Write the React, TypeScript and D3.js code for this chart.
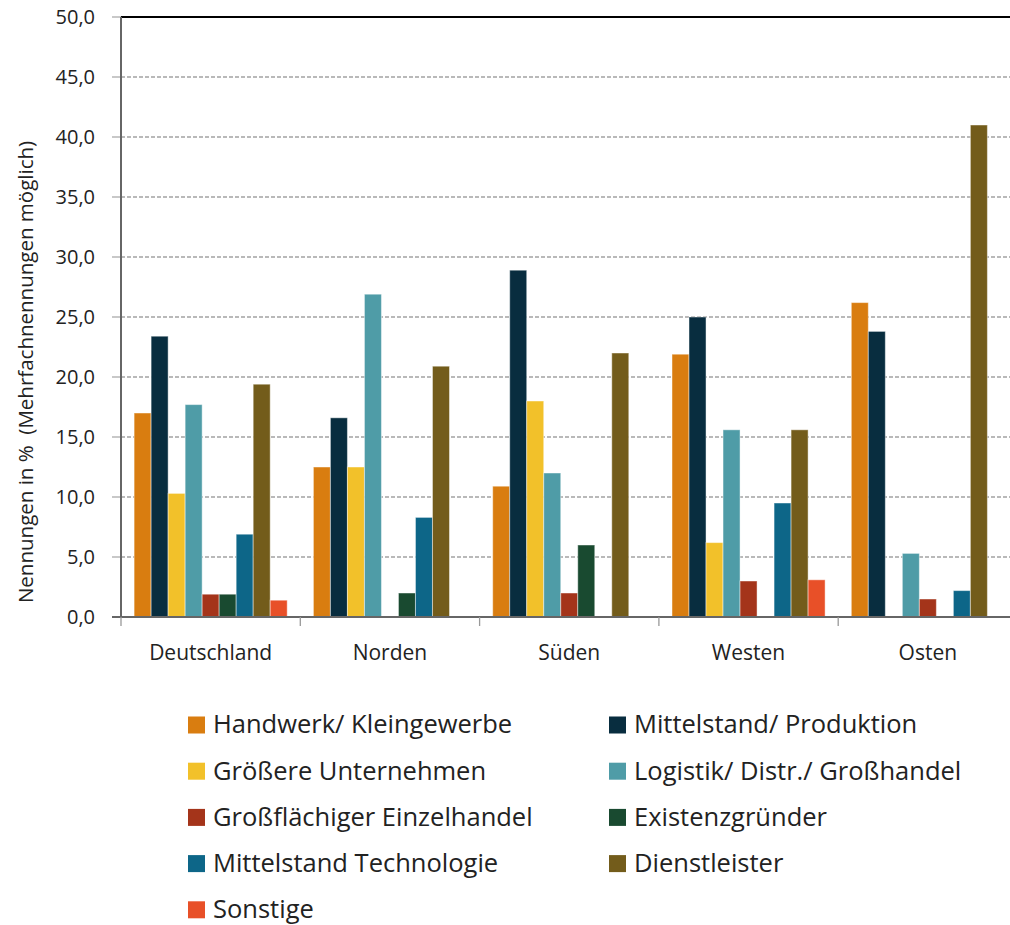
import * as d3 from 'd3';

const regions = ['Deutschland', 'Norden', 'Süden', 'Westen', 'Osten'];

const seriesNames = [
  'Handwerk/ Kleingewerbe',
  'Mittelstand/ Produktion',
  'Größere Unternehmen',
  'Logistik/ Distr./ Großhandel',
  'Großflächiger Einzelhandel',
  'Existenzgründer',
  'Mittelstand Technologie',
  'Dienstleister',
  'Sonstige'
];

const seriesColors = [
  '#d97d10',
  '#082d3f',
  '#f2c12a',
  '#4f9ca7',
  '#a4341a',
  '#194a30',
  '#0d6688',
  '#735c1b',
  '#e85028'
];

// one value per region, in region order
const handwerk = [17.0, 12.5, 10.9, 21.9, 26.2];
const produktion = [23.4, 16.6, 28.9, 25.0, 23.8];
const groessere = [10.3, 12.5, 18.0, 6.2, 0];
const logistik = [17.7, 26.9, 12.0, 15.6, 5.3];
const einzelhandel = [1.9, 0, 2.0, 3.0, 1.5];
const gruender = [1.9, 2.0, 6.0, 0, 0];
const technologie = [6.9, 8.3, 0, 9.5, 2.2];
const dienstleister = [19.4, 20.9, 22.0, 15.6, 41.0];
const sonstige = [1.4, 0, 0, 3.1, 0];

const seriesValues = [
  handwerk,
  produktion,
  groessere,
  logistik,
  einzelhandel,
  gruender,
  technologie,
  dienstleister,
  sonstige
];

const yTicks = [0, 5, 10, 15, 20, 25, 30, 35, 40, 45, 50];

const FONT = '"Open Sans", "Noto Sans", sans-serif';
const TEXT = '#222';

export default function App(): JSX.Element {
  const width = 1010;
  const height = 925;
  const left = 121;
  const top = 17;
  const bottom = 617;
  const groupW = 179.3;

  const x = d3
    .scaleBand<string>()
    .domain(regions)
    .range([left, left + groupW * regions.length])
    .padding(0);
  const xs = d3
    .scaleBand<string>()
    .domain(seriesNames)
    .range([0, x.bandwidth()])
    .paddingInner(0)
    .paddingOuter(0.77);
  const y = d3.scaleLinear().domain([0, 50]).range([bottom, top]);
  const fmt = (v: number) => d3.format('.1f')(v).replace('.', ',');

  const bars = regions.flatMap((r, ri) =>
    seriesNames.map((s, si) => {
      const v = seriesValues[si][ri];
      if (!v) return null;
      return (
        <rect
          key={`${r}-${s}`}
          x={(x(r) as number) + (xs(s) as number)}
          y={y(v)}
          width={xs.bandwidth()}
          height={y(0) - y(v)}
          fill={seriesColors[si]}
          stroke="rgba(255,255,255,0.45)"
          strokeWidth={1}
        />
      );
    })
  );

  return (
    <svg
      xmlns="http://www.w3.org/2000/svg"
      width={width}
      height={height}
      style={{ display: 'block', position: 'absolute', left: 0, top: 0 }}
    >
      <rect width={width} height={height} fill="#fff" />
      {yTicks.slice(1, -1).map((t) => (
        <line
          key={`g${t}`}
          x1={left}
          x2={width}
          y1={y(t)}
          y2={y(t)}
          stroke="#a3a3a3"
          strokeWidth={1.3}
          strokeDasharray="4,2"
        />
      ))}
      {yTicks.map((t) => (
        <g key={`t${t}`}>
          <line x1={112} x2={left} y1={y(t)} y2={y(t)} stroke="#aaa" strokeWidth={1.3} />
          <text
            x={95}
            y={y(t)}
            dy="0.35em"
            textAnchor="end"
            fontFamily={FONT}
            fontSize={20}
            fill={TEXT}
          >
            {fmt(t)}
          </text>
        </g>
      ))}
      <line x1={left} x2={width} y1={top} y2={top} stroke="#000" strokeWidth={2.2} />
      {bars}
      <line x1={left} x2={left} y1={top} y2={bottom + 1} stroke="#666" strokeWidth={2} />
      <line x1={left - 9} x2={width} y1={bottom} y2={bottom} stroke="#666" strokeWidth={2} />
      {regions.map((r) => (
        <line
          key={`xt${r}`}
          x1={x(r)}
          x2={x(r)}
          y1={bottom}
          y2={bottom + 9}
          stroke="#999"
          strokeWidth={1.3}
        />
      ))}
      {regions.map((r) => (
        <text
          key={`xl${r}`}
          x={(x(r) as number) + x.bandwidth() / 2}
          y={660}
          textAnchor="middle"
          fontFamily={FONT}
          fontSize={21}
          fill={TEXT}
        >
          {r}
        </text>
      ))}
      <text
        transform="translate(33,372) rotate(-90)"
        textAnchor="middle"
        fontFamily={FONT}
        fontSize={20.5}
        fill={TEXT}
        style={{ whiteSpace: 'pre' }}
      >
        {'Nennungen in %  (Mehrfachnennungen möglich)'}
      </text>
      {seriesNames.map((s, i) => {
        const col = i % 2;
        const row = Math.floor(i / 2);
        const lx = col === 0 ? 188 : 609;
        const ly = 725 + row * 46.2;
        return (
          <g key={`lg${s}`}>
            <rect x={lx} y={ly - 8.5} width={17} height={17} fill={seriesColors[i]} />
            <text
              x={lx + 25}
              y={ly}
              dy="0.33em"
              fontFamily={FONT}
              fontSize={25.5}
              fill={TEXT}
            >
              {s}
            </text>
          </g>
        );
      })}
    </svg>
  );
}
